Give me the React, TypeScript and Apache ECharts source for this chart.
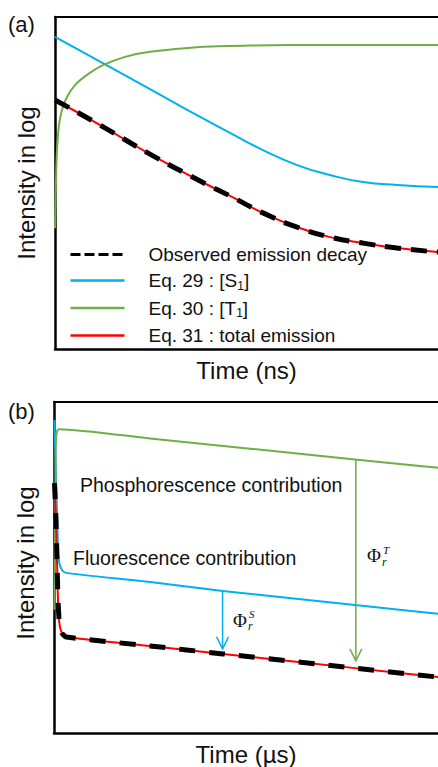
import React, { useEffect, useRef } from "react";
import * as echarts from "echarts";

// ---------- Panel (a) data: x = time (arb. units 0..100), y = log intensity (arb. 0..100)
const aObserved = [[0, 75.0], [11.7, 67.5], [24.8, 58.7], [37.9, 50.6], [45.7, 46.1], [54.3, 41.0], [63.2, 36.7], [71.8, 33.7], [80.4, 31.9], [89.3, 30.4], [100, 29.2]];
const aTotal = [[0, 75.0], [11.7, 67.5], [24.8, 58.7], [37.9, 50.6], [45.7, 46.1], [54.3, 41.0], [63.2, 36.7], [71.8, 33.7], [80.4, 31.9], [89.3, 30.4], [100, 29.2]];
const aS1 = [[0, 94.0], [12.5, 86.1], [24.8, 78.3], [37.9, 69.9], [45.7, 65.1], [54.3, 59.9], [63.2, 55.4], [71.8, 52.4], [80.4, 50.3], [89.3, 49.4], [100, 48.8]];
const aT1 = [[0, 36.4], [0.26, 50.9], [0.52, 59.9], [1.04, 67.5], [1.83, 72.0], [3.13, 75.9], [5.22, 79.5], [8.62, 82.8], [12.53, 85.5], [18.3, 88.0], [24.8, 89.5], [37.9, 91.0], [50.9, 91.4], [71.8, 91.6], [100, 91.6]];

// ---------- Panel (b) data
const bObserved = [[0.13, 75.5], [0.52, 64.4], [0.78, 52.3], [1.04, 40.2], [1.43, 32.9], [2.08, 30.2], [3.13, 29.0], [25, 26.3], [44, 23.9], [78.4, 19.6], [100, 16.9]];
const bTotal = [[0.13, 75.5], [0.52, 64.4], [0.78, 52.3], [1.04, 40.2], [1.43, 32.9], [2.08, 30.2], [3.13, 29.0], [25, 26.3], [44, 23.9], [78.4, 19.6], [100, 16.9]];
const bS1 = [[0.13, 94.6], [0.52, 76.4], [0.91, 61.3], [1.12, 53.8], [1.56, 50.5], [2.34, 48.9], [3.39, 48.3], [25, 45.6], [44, 42.9], [78.4, 38.7], [100, 36.0]];
const bT1 = [[0.13, 37.2], [0.39, 79.5], [0.52, 88.5], [0.78, 91.2], [1.3, 91.8], [25, 89.0], [77.1, 82.8], [100, 80.1]];

// arrows: [x, yFrom, yTo]
const bArrows = [[43.9, 42.9, 25.4], [78.6, 82.7, 21.8]];
const arrowColors = ["#00B0F0", "#70AD47"];
// Phi labels: [x, y]
const phiPos = [[46.6, 34.0], [81.5, 53.6]];
const phiSup = ["S", "T"];

const legendNames = ["Observed emission decay", "Eq. 29 : [S1]", "Eq. 30 : [T1]", "Eq. 31 : total emission"];

const FONT = "'Liberation Sans', Arial, sans-serif";
const SERIF = "'Liberation Serif', 'DejaVu Serif', serif";
const TXT = "#111";
const BLUE = "#00B0F0";
const GREEN = "#70AD47";
const RED = "#FF0000";

function axisX(grid: number, pos: string, name?: string) {
  return {
    gridIndex: grid,
    type: "value",
    min: 0,
    max: 100,
    position: pos,
    axisLine: { show: true, onZero: false, lineStyle: { color: "#000", width: pos === "top" ? 2 : 2.5 } },
    axisTick: { show: false },
    axisLabel: { show: false },
    splitLine: { show: false },
    name: name || "",
    nameLocation: "middle",
    nameGap: 9,
    nameTextStyle: { fontSize: 24, fontFamily: FONT, color: TXT },
  };
}

function axisY(grid: number, shift: number) {
  return {
    gridIndex: grid,
    type: "value",
    min: 0,
    max: 100,
    axisLine: { show: true, onZero: false, lineStyle: { color: "#000", width: 2.5 } },
    axisTick: { show: false },
    axisLabel: { show: false },
    splitLine: { show: false },
    name: "Intensity in log",
    nameLocation: "middle",
    nameGap: 17,
    nameTextStyle: { fontSize: 24, fontFamily: FONT, color: TXT, padding: shift > 0 ? [0, 0, 0, shift] : 0 },
  };
}

function lineSeries(name: string, data: number[][], xi: number, yi: number, color: string, width: number, type: any, z: number, smooth: number) {
  return {
    type: "line",
    name,
    data,
    xAxisIndex: xi,
    yAxisIndex: yi,
    showSymbol: false,
    symbol: "none",
    smooth,
    z,
    lineStyle: { color, width, type },
    itemStyle: { color },
    silent: true,
  };
}

export default function App() {
  const ref = useRef<HTMLDivElement>(null);
  useEffect(() => {
    if (!ref.current) return;
    const chart = echarts.init(ref.current, null, { renderer: "svg" });
    const option: any = {
      animation: false,
      backgroundColor: "#fff",
      grid: [
        { left: 55, right: 0, top: 17, bottom: 418 },
        { left: 54, right: 0, top: 402, bottom: 34 },
      ],
      xAxis: [axisX(0, "bottom", "Time (ns)"), axisX(0, "top"), axisX(1, "bottom", "Time (µs)"), axisX(1, "top")],
      yAxis: [axisY(0, 0), axisY(1, 9)],
      legend: {
        orient: "vertical",
        left: 69,
        top: 245,
        padding: 0,
        itemWidth: 54,
        itemHeight: 14,
        itemGap: 7,
        selectedMode: false,
        itemStyle: { opacity: 0 },
        textStyle: {
          fontSize: 19,
          fontFamily: FONT,
          color: TXT,
          padding: [0, 0, 0, 19],
          rich: { sub: { fontSize: 12, fontFamily: FONT, color: TXT, padding: [10, 0, 0, 0] } },
        },
        formatter: (name: string) => name.replace(/\[(S|T)1\]/, "[$1{sub|1}]"),
        data: [
          { name: legendNames[0], itemStyle: { opacity: 0 }, lineStyle: { width: 3, type: [10, 4], color: "#000" } },
          { name: legendNames[1], itemStyle: { opacity: 0 }, lineStyle: { width: 2.5, color: BLUE } },
          { name: legendNames[2], itemStyle: { opacity: 0 }, lineStyle: { width: 2.5, color: GREEN } },
          { name: legendNames[3], itemStyle: { opacity: 0 }, lineStyle: { width: 2.5, color: RED } },
        ],
      },
      series: [
        lineSeries(legendNames[1], aS1, 0, 0, BLUE, 2, "solid", 2, 0.5),
        lineSeries(legendNames[2], aT1, 0, 0, GREEN, 2, "solid", 2, 0.3),
        lineSeries(legendNames[3], aTotal, 0, 0, RED, 2, "solid", 3, 0.5),
        lineSeries(legendNames[0], aObserved, 0, 0, "#000", 5, [16, 10], 4, 0.5),
        lineSeries("b S1", bS1, 2, 1, BLUE, 2, "solid", 2, 0.2),
        lineSeries("b T1", bT1, 2, 1, GREEN, 2, "solid", 2, 0.2),
        lineSeries("b total", bTotal, 2, 1, RED, 2, "solid", 3, 0.2),
        lineSeries("b observed", bObserved, 2, 1, "#000", 5, [16, 14], 4, 0.2),
        {
          type: "custom",
          name: "arrows",
          xAxisIndex: 2,
          yAxisIndex: 1,
          data: bArrows,
          encode: { x: 0, y: [1, 2] },
          silent: true,
          z: 5,
          renderItem: (params: any, api: any) => {
            const x = api.value(0);
            const p1 = api.coord([x, api.value(1)]);
            const p2 = api.coord([x, api.value(2)]);
            const c = arrowColors[params.dataIndex];
            return {
              type: "group",
              children: [
                { type: "line", shape: { x1: p1[0], y1: p1[1], x2: p2[0], y2: p2[1] }, style: { stroke: c, lineWidth: 1.5 } },
                {
                  type: "polyline",
                  shape: { points: [[p2[0] - 6, p2[1] - 12], [p2[0], p2[1]], [p2[0] + 6, p2[1] - 12]] },
                  style: { stroke: c, lineWidth: 1.5, fill: "none" },
                },
              ],
            };
          },
        },
        {
          type: "custom",
          name: "phi",
          xAxisIndex: 2,
          yAxisIndex: 1,
          data: phiPos,
          encode: { x: 0, y: 1 },
          silent: true,
          z: 5,
          renderItem: (params: any, api: any) => {
            const p = api.coord([api.value(0), api.value(1)]);
            return {
              type: "group",
              children: [
                { type: "text", x: p[0], y: p[1], style: { text: "Φ", fontSize: 19, fontFamily: SERIF, fill: TXT, align: "left", verticalAlign: "middle" } },
                { type: "text", x: p[0] + 16, y: p[1] - 6, style: { text: phiSup[params.dataIndex], fontSize: 11, fontStyle: "italic", fontFamily: SERIF, fill: TXT, align: "left", verticalAlign: "middle" } },
                { type: "text", x: p[0] + 15, y: p[1] + 6, style: { text: "r", fontSize: 12, fontStyle: "italic", fontFamily: SERIF, fill: TXT, align: "left", verticalAlign: "middle" } },
              ],
            };
          },
        },
      ],
      graphic: [
        { type: "text", x: 8, y: 24, style: { text: "(a)", fontSize: 22, fontFamily: FONT, fill: TXT, verticalAlign: "middle" } },
        { type: "text", x: 8, y: 411, style: { text: "(b)", fontSize: 22, fontFamily: FONT, fill: TXT, verticalAlign: "middle" } },
        { type: "text", x: 80, y: 485, style: { text: "Phosphorescence contribution", fontSize: 19.5, fontFamily: FONT, fill: TXT, verticalAlign: "middle" } },
        { type: "text", x: 73, y: 558, style: { text: "Fluorescence contribution", fontSize: 19.5, fontFamily: FONT, fill: TXT, verticalAlign: "middle" } },
      ],
    };
    chart.setOption(option);
    return () => chart.dispose();
  }, []);
  return <div ref={ref} style={{ position: "absolute", left: 0, top: 0, width: 438, height: 767 }} />;
}
